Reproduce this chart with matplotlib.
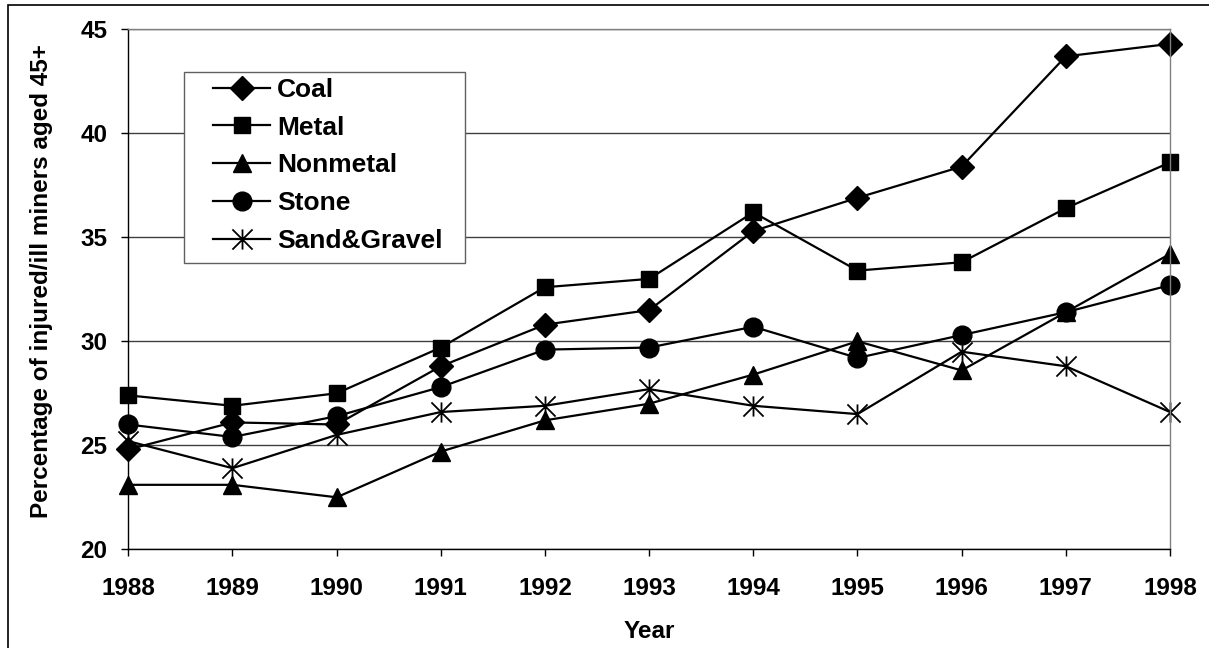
import numpy as np
import matplotlib
matplotlib.use("Agg")
import matplotlib.pyplot as plt
from matplotlib.path import Path
from matplotlib.patches import Rectangle

# values
years = [1988, 1989, 1990, 1991, 1992, 1993, 1994, 1995, 1996, 1997, 1998]
coal = [24.8, 26.1, 26.0, 28.8, 30.8, 31.5, 35.3, 36.9, 38.4, 43.7, 44.3]
metal = [27.4, 26.9, 27.5, 29.7, 32.6, 33.0, 36.2, 33.4, 33.8, 36.4, 38.6]
nonmetal = [23.1, 23.1, 22.5, 24.7, 26.2, 27.0, 28.4, 30.0, 28.6, 31.4, 34.2]
stone = [26.0, 25.4, 26.4, 27.8, 29.6, 29.7, 30.7, 29.2, 30.3, 31.4, 32.7]
sand_gravel = [25.2, 23.9, 25.5, 26.6, 26.9, 27.7, 26.9, 26.5, 29.5, 28.8, 26.6]

series_names = ["Coal", "Metal", "Nonmetal", "Stone", "Sand&Gravel"]
y_ticks = [20, 25, 30, 35, 40, 45]

W, H = 1209, 648

# excel style asterisk: vertical bar plus an X
star = Path([(0, -1), (0, 1), (-1, -1), (1, 1), (-1, 1), (1, -1)],
            [Path.MOVETO, Path.LINETO, Path.MOVETO, Path.LINETO, Path.MOVETO, Path.LINETO])

plt.rcParams['font.family'] = ['Liberation Sans', 'DejaVu Sans']

fig = plt.figure(figsize=(W / 100, H / 100), dpi=100)
ax = fig.add_axes([128.3 / W, 1 - 549.3 / H, (1170 - 128.3) / W, 520 / H])

# outer chart border (left/top visible only)
fig.patches.append(Rectangle((8 / W, -0.05), 1.2, 1 - 5 / H + 0.05, transform=fig.transFigure,
                             fill=False, edgecolor='black', linewidth=1.2))

styles = [
    dict(marker='D', markersize=12),
    dict(marker='s', markersize=11),
    dict(marker='^', markersize=13),
    dict(marker='o', markersize=13.5),
    dict(marker=star, markersize=14.5, markeredgewidth=1.3),
]
data = [coal, metal, nonmetal, stone, sand_gravel]
for vals, name, st in zip(data, series_names, styles):
    ax.plot(years, vals, color='black', linewidth=1.6, label=name,
            markerfacecolor='black', markeredgecolor='black', clip_on=False, **st)

ax.set_xlim(1988, 1998)
ax.set_ylim(20, 45)
ax.set_xticks(years)
ax.set_yticks(y_ticks)
ax.yaxis.grid(True, color='#404040', linewidth=1)
ax.set_axisbelow(True)

for side in ['top', 'right']:
    ax.spines[side].set_color('#808080')
for side in ['left', 'bottom']:
    ax.spines[side].set_color('black')
for s in ax.spines.values():
    s.set_linewidth(1)

ax.tick_params(axis='both', direction='out', length=5, width=1, labelsize=17.5)
ax.tick_params(axis='x', pad=15)
ax.tick_params(axis='y', pad=10)
for lab in ax.get_xticklabels() + ax.get_yticklabels():
    lab.set_fontweight('bold')

ax.set_xlabel('Year', fontsize=17.5, fontweight='bold', labelpad=14)
ax.set_ylabel('Percentage of injured/ill miners aged 45+', fontsize=17.5, fontweight='bold')
ax.yaxis.set_label_coords(-0.072, 0.515)

# legend box drawn separately so the padding matches the original
box = Rectangle((184 / W, 1 - 263 / H), 281 / W, 191 / H, transform=fig.transFigure,
                facecolor='white', edgecolor='#606060', linewidth=1, zorder=4, clip_on=False)
ax.add_patch(box)
leg = ax.legend(loc='upper left', bbox_to_anchor=(213 / W, 1 - 78 / H), bbox_transform=fig.transFigure,
                frameon=False, prop={'size': 19, 'weight': 'bold'},
                handlelength=2.16, handletextpad=0.27, labelspacing=0.52, borderpad=0, borderaxespad=0)

fig.savefig('out.png', dpi=100)
